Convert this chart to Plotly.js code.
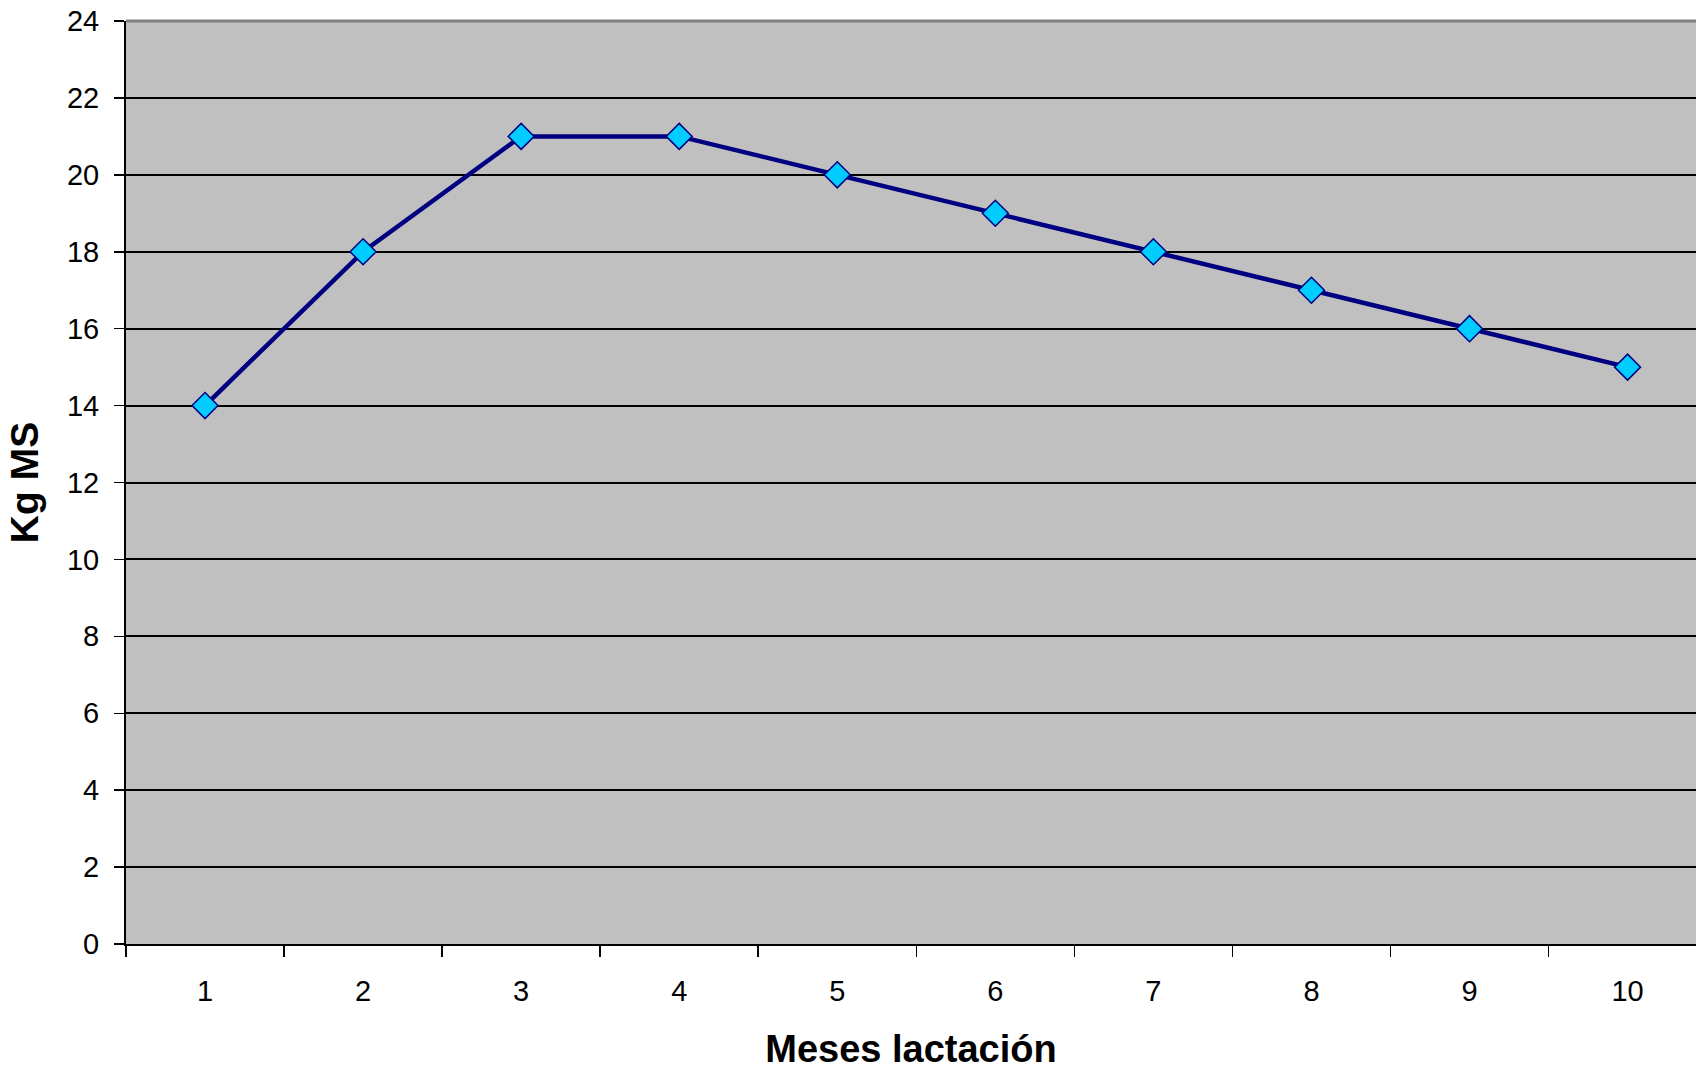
<!DOCTYPE html>
<html>
<head>
<meta charset="utf-8">
<script src="https://cdn.plot.ly/plotly-3.0.1.min.js"></script>
<style>html,body{margin:0;padding:0;background:#fff;}#chart{width:1696px;height:1070px;}</style>
</head>
<body>
<div id="chart"></div>
<script>
const months = ["1","2","3","4","5","6","7","8","9","10"];
const kgMS = [14, 18, 21, 21, 20, 19, 18, 17, 16, 15];
const yTicks = [0,2,4,6,8,10,12,14,16,18,20,22,24];
const xTitle = "Meses lactación";
const yTitle = "Kg MS";

const trace = {
  x: months,
  y: kgMS,
  type: "scatter",
  mode: "lines+markers",
  line: {color: "#000080", width: 4.5},
  marker: {symbol: "diamond", size: 20, color: "#00CCFF", line: {color: "#000080", width: 1.5}},
  hoverinfo: "skip"
};

const layout = {
  width: 1696,
  height: 1070,
  paper_bgcolor: "#ffffff",
  plot_bgcolor: "#C0C0C0",
  margin: {l: 126, r: 0, t: 21, b: 126},
  showlegend: false,
  font: {family: "Liberation Sans, Arial, sans-serif", color: "#000"},
  xaxis: {
    type: "category",
    range: [-0.5, 9.433],
    tickson: "boundaries",
    ticks: "outside",
    ticklen: 11,
    tickwidth: 1.5,
    tickcolor: "#000",
    ticklabelstandoff: 20,
    showgrid: false,
    showline: true,
    linecolor: "#000",
    linewidth: 2,
    tickfont: {size: 29, family: "Liberation Sans, Arial, sans-serif"},
    title: {text: xTitle, font: {size: 38, family: "Liberation Sans, Arial, sans-serif", weight: "bold"}, standoff: 30},
    fixedrange: true
  },
  yaxis: {
    range: [0, 24],
    tickvals: yTicks,
    ticktext: yTicks.map(String),
    ticks: "outside",
    ticklen: 10,
    tickwidth: 1.5,
    tickcolor: "#000",
    ticklabelstandoff: 9,
    showgrid: true,
    gridcolor: "#000",
    gridwidth: 2,
    zeroline: false,
    showline: true,
    linecolor: "#000",
    linewidth: 2,
    tickfont: {size: 29, family: "Liberation Sans, Arial, sans-serif"},
    title: {text: yTitle, font: {size: 39, family: "Liberation Sans, Arial, sans-serif", weight: "bold"}, standoff: 16},
    fixedrange: true
  },
  shapes: [
    {type: "line", xref: "paper", yref: "paper", x0: 0, x1: 1, y0: 1, y1: 1, line: {color: "#808080", width: 3}}
  ]
};

Plotly.newPlot("chart", [trace], layout, {displayModeBar: false, staticPlot: true});
</script>
</body>
</html>
